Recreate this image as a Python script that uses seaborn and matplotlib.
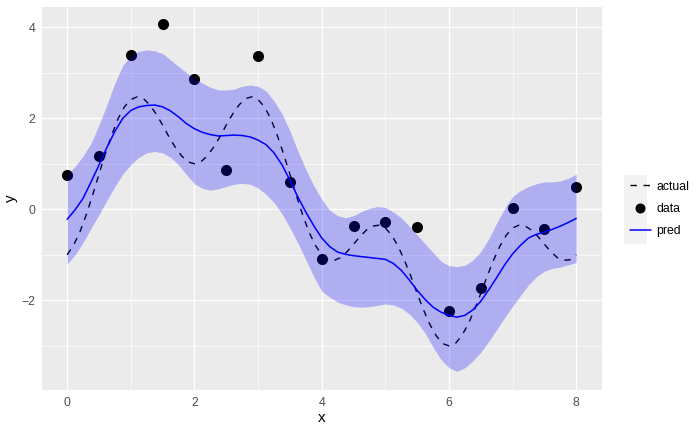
import numpy as np
import pandas as pd
import matplotlib
matplotlib.use("Agg")
import matplotlib.pyplot as plt
from matplotlib.lines import Line2D
from matplotlib.patches import Rectangle
import seaborn as sns

# ---------------- data ----------------
data_x = [0.0, 0.5, 1.0, 1.5, 2.0, 2.5, 3.0, 3.5, 4.0, 4.5, 5.0, 5.5, 6.0, 6.5, 7.0, 7.5, 8.0]
data_y = [0.76, 1.16, 3.38, 4.07, 2.86, 0.86, 3.36, 0.61, -1.10, -0.36, -0.27, -0.40,
          -2.24, -1.72, 0.02, -0.43, 0.49]

actual_x = [0.0, 0.1, 0.2, 0.3, 0.4, 0.5, 0.6, 0.7, 0.8, 0.9,
            1.0, 1.1, 1.2, 1.3, 1.4, 1.5, 1.6, 1.7, 1.8, 1.9,
            2.0, 2.1, 2.2, 2.3, 2.4, 2.5, 2.6, 2.7, 2.8, 2.9,
            3.0, 3.1, 3.2, 3.3, 3.4, 3.5, 3.6, 3.7, 3.8, 3.9,
            4.0, 4.1, 4.2, 4.3, 4.4, 4.5, 4.6, 4.7, 4.8, 4.9,
            5.0, 5.1, 5.2, 5.3, 5.4, 5.5, 5.6, 5.7, 5.8, 5.9,
            6.0, 6.1, 6.2, 6.3, 6.4, 6.5, 6.6, 6.7, 6.8, 6.9,
            7.0, 7.1, 7.2, 7.3, 7.4, 7.5, 7.6, 7.7, 7.8, 7.9, 8.0]
actual_y = [-1.00, -0.79, -0.50, -0.12, 0.31, 0.77, 1.22, 1.63, 1.99, 2.25,
            2.41, 2.47, 2.43, 2.29, 2.09, 1.85, 1.59, 1.36, 1.17, 1.04,
            1.00, 1.04, 1.17, 1.36, 1.59, 1.85, 2.09, 2.29, 2.43, 2.47,
            2.41, 2.25, 1.99, 1.63, 1.22, 0.77, 0.31, -0.12, -0.50, -0.79,
            -1.00, -1.11, -1.12, -1.06, -0.93, -0.77, -0.60, -0.46, -0.37, -0.35,
            -0.41, -0.57, -0.81, -1.12, -1.47, -1.85, -2.21, -2.53, -2.78, -2.95,
            -3.00, -2.95, -2.78, -2.53, -2.21, -1.85, -1.47, -1.12, -0.81, -0.57,
            -0.41, -0.35, -0.37, -0.46, -0.60, -0.77, -0.93, -1.06, -1.12, -1.11, -1.00]

pred_x = [0.0, 0.125, 0.25, 0.375, 0.5, 0.625, 0.75, 0.875,
          1.0, 1.125, 1.25, 1.375, 1.5, 1.625, 1.75, 1.875,
          2.0, 2.125, 2.25, 2.375, 2.5, 2.625, 2.75, 2.875,
          3.0, 3.125, 3.25, 3.375, 3.5, 3.625, 3.75, 3.875,
          4.0, 4.125, 4.25, 4.375, 4.5, 4.625, 4.75, 4.875,
          5.0, 5.125, 5.25, 5.375, 5.5, 5.625, 5.75, 5.875,
          6.0, 6.125, 6.25, 6.375, 6.5, 6.625, 6.75, 6.875,
          7.0, 7.125, 7.25, 7.375, 7.5, 7.625, 7.75, 7.875, 8.0]
pred_y = [-0.22, -0.01, 0.24, 0.60, 0.97, 1.36, 1.71, 2.00,
          2.17, 2.25, 2.28, 2.29, 2.25, 2.16, 2.03, 1.88,
          1.77, 1.69, 1.64, 1.61, 1.62, 1.63, 1.62, 1.59,
          1.52, 1.42, 1.24, 0.98, 0.64, 0.27, -0.06, -0.36,
          -0.63, -0.82, -0.94, -0.99, -1.02, -1.04, -1.06, -1.08,
          -1.10, -1.19, -1.34, -1.55, -1.78, -1.98, -2.15, -2.26,
          -2.33, -2.37, -2.33, -2.21, -2.02, -1.77, -1.50, -1.22,
          -0.98, -0.79, -0.63, -0.55, -0.50, -0.44, -0.37, -0.29, -0.20]
upper_y = [0.75, 0.94, 1.17, 1.45, 1.85, 2.30, 2.77, 3.16,
           3.37, 3.47, 3.50, 3.48, 3.42, 3.28, 3.14, 3.00,
           2.88, 2.77, 2.68, 2.62, 2.62, 2.64, 2.70, 2.73,
           2.70, 2.60, 2.38, 2.10, 1.72, 1.28, 0.88, 0.52,
           0.22, -0.02, -0.14, -0.19, -0.14, -0.05, 0.02, 0.06,
           0.04, -0.06, -0.19, -0.37, -0.56, -0.76, -0.95, -1.14,
           -1.24, -1.26, -1.23, -1.12, -0.93, -0.65, -0.30, 0.02,
           0.28, 0.41, 0.50, 0.56, 0.60, 0.60, 0.62, 0.68, 0.77]
lower_y = [-1.20, -1.00, -0.73, -0.42, -0.12, 0.20, 0.50, 0.78,
           0.98, 1.14, 1.24, 1.27, 1.24, 1.14, 0.98, 0.76,
           0.56, 0.46, 0.42, 0.45, 0.50, 0.55, 0.57, 0.55,
           0.47, 0.33, 0.15, -0.10, -0.40, -0.74, -1.10, -1.48,
           -1.80, -1.93, -2.04, -2.10, -2.14, -2.15, -2.14, -2.11,
           -2.08, -2.10, -2.17, -2.30, -2.48, -2.72, -3.03, -3.30,
           -3.48, -3.56, -3.48, -3.33, -3.14, -2.90, -2.64, -2.38,
           -2.13, -1.89, -1.66, -1.48, -1.36, -1.30, -1.27, -1.22, -1.17]

legend_labels = ["actual", "data", "pred"]

# ---------------- style ----------------
sns.set_theme(style="darkgrid")
plt.rcParams["font.family"] = ["Liberation Sans", "DejaVu Sans"]
plt.rcParams.update({
    "axes.facecolor": "#EBEBEB",
    "grid.color": "white",
    "axes.edgecolor": "none",
    "xtick.color": "#333333",
    "ytick.color": "#333333",
})

W, H = 700, 432
fig = plt.figure(figsize=(7.0, 4.32), dpi=100)
ax = fig.add_axes([41.7 / W, 1 - 390 / H, (601.7 - 41.7) / W, (390 - 6.7) / H])

df_data = pd.DataFrame({"x": data_x, "y": data_y})
df_act = pd.DataFrame({"x": actual_x, "y": actual_y})
df_pred = pd.DataFrame({"x": pred_x, "y": pred_y, "lo": lower_y, "hi": upper_y})

DASH = (0, (4.6, 4.8))

sns.scatterplot(data=df_data, x="x", y="y", ax=ax, color="black", s=64,
                linewidth=0, zorder=3, legend=False)
sns.lineplot(data=df_act, x="x", y="y", ax=ax, color="black", linewidth=1.0,
             linestyle=DASH, estimator=None, sort=False, zorder=4, legend=False)
ax.fill_between(df_pred["x"], df_pred["lo"], df_pred["hi"], color="blue", alpha=0.26,
                linewidth=0, zorder=5)
sns.lineplot(data=df_pred, x="x", y="y", ax=ax, color="blue", linewidth=1.1,
             estimator=None, sort=False, zorder=6, legend=False)

ax.set_xlim(-0.4, 8.4)
ax.set_ylim(-3.97, 4.45)
ax.set_xticks([0, 2, 4, 6, 8])
ax.set_xticks([1, 3, 5, 7], minor=True)
ax.set_yticks([-2, 0, 2, 4])
ax.set_yticks([-3, -1, 1, 3], minor=True)
ax.grid(which="major", color="white", linewidth=1.0)
ax.grid(which="minor", color="white", linewidth=0.5)
ax.tick_params(axis="both", which="major", length=2.6, width=0.8, color="#333333",
               labelsize=8.8, labelcolor="#4D4D4D", pad=2.2)
ax.tick_params(axis="both", which="minor", length=0)
ax.set_xlabel("x", fontsize=11, color="black", labelpad=1.5)
ax.set_ylabel("y", fontsize=11, color="black", labelpad=2.5)
for s in ax.spines.values():
    s.set_visible(False)

# legend
fig.patches.append(Rectangle((624 / W, 1 - 243.5 / H), 23 / W, 68.5 / H,
                             transform=fig.transFigure, facecolor="#F2F2F2",
                             edgecolor="none", zorder=0))
handles = [
    Line2D([], [], color="black", linewidth=1.0, linestyle=DASH),
    Line2D([], [], color="black", marker="o", markersize=6.2, linestyle="none"),
    Line2D([], [], color="blue", linewidth=1.1),
]
leg = fig.legend(handles, legend_labels, loc="center left",
                 bbox_to_anchor=(621 / W, 1 - 209 / H), frameon=False,
                 fontsize=8.8, handlelength=1.75, handletextpad=0.45,
                 labelspacing=0.85, borderpad=0.2)
for t in leg.get_texts():
    t.set_color("black")

fig.savefig("out.png", dpi=100)
